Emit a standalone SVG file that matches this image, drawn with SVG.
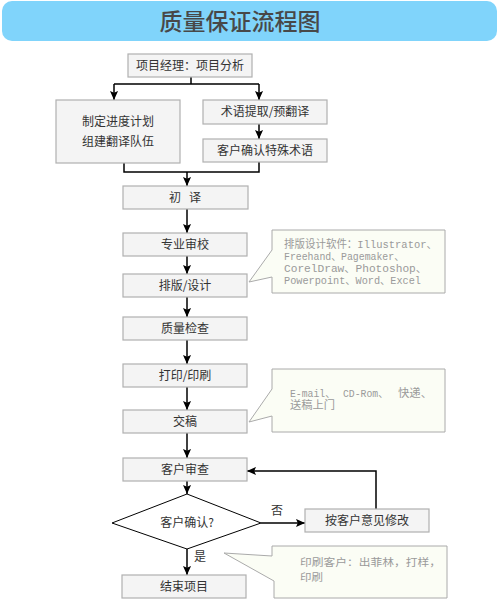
<svg xmlns="http://www.w3.org/2000/svg" width="500" height="600" viewBox="0 0 500 600">
<defs>
<marker id="arr" viewBox="0 0 10 10" refX="10" refY="5" markerWidth="9" markerHeight="9" markerUnits="userSpaceOnUse" orient="auto">
<path d="M0,0.5 L10,5 L0,9.5 L2,5 z" fill="#000"/>
</marker>
<style>
.box{fill:#f4f4f4;stroke:#b0b0b0;stroke-width:1.2}
.t{font-family:"Noto Sans CJK SC","Noto Sans",sans-serif;font-size:12px;fill:#333;text-anchor:middle}
.c{fill:none;stroke:#000;stroke-width:1.5}
.call{fill:#fbfdf5;stroke:#aaaaaa;stroke-width:1}
.ct{font-family:"Liberation Mono","Noto Sans CJK SC",monospace;font-size:11px;fill:#9a9a9a}
.cs{font-family:"Noto Sans CJK SC","Noto Sans",sans-serif;font-size:10px;fill:#9a9a9a}
</style>
</defs>
<rect width="500" height="600" fill="#fff"/>
<g id="header">
<rect x="2" y="1" width="495" height="40" rx="10" fill="#80d4fb"/>
<text x="240" y="30" font-family="Noto Sans CJK SC,sans-serif" font-size="23" fill="#484848" text-anchor="middle" font-weight="500">质量保证流程图</text>
</g>
<g id="connectors">
<path class="c" d="M191,77 V84 M114,84 H259"/>
<path class="c" d="M114,84 V100" marker-end="url(#arr)"/>
<path class="c" d="M259,84 V100" marker-end="url(#arr)"/>
<path class="c" d="M259,124 V139" marker-end="url(#arr)"/>
<path class="c" d="M124,163 V172 H259 V162"/>
<path class="c" d="M187,172 V186" marker-end="url(#arr)"/>
<path class="c" d="M187,209 V233" marker-end="url(#arr)"/>
<path class="c" d="M187,256 V274" marker-end="url(#arr)"/>
<path class="c" d="M187,297 V317" marker-end="url(#arr)"/>
<path class="c" d="M187,340 V364" marker-end="url(#arr)"/>
<path class="c" d="M187,387 V410" marker-end="url(#arr)"/>
<path class="c" d="M187,433 V458" marker-end="url(#arr)"/>
<path class="c" d="M187,481 V494" marker-end="url(#arr)"/>
<path class="c" d="M261,523 H305" marker-end="url(#arr)"/>
<path class="c" d="M376,509 V471 H247" marker-end="url(#arr)"/>
<path class="c" d="M187,549 V575" marker-end="url(#arr)"/>
</g>
<g id="n1"><rect class="box" x="128" y="54" width="124" height="23"/><text class="t" x="190" y="70">项目经理：项目分析</text></g>
<g id="n2"><rect class="box" x="56" y="100" width="124" height="63"/><text class="t" x="118" y="126">制定进度计划</text><text class="t" x="118" y="146">组建翻译队伍</text></g>
<g id="n3"><rect class="box" x="203" y="100" width="124" height="24"/><text class="t" x="265" y="116">术语提取/预翻译</text></g>
<g id="n4"><rect class="box" x="203" y="139" width="124" height="23"/><text class="t" x="265" y="155">客户确认特殊术语</text></g>
<g id="n5"><rect class="box" x="123" y="186" width="125" height="23"/><text class="t" x="185" y="202" xml:space="preserve">初   译</text></g>
<g id="n6"><rect class="box" x="123" y="233" width="124" height="23"/><text class="t" x="185" y="249">专业审校</text></g>
<g id="n7"><rect class="box" x="123" y="274" width="124" height="23"/><text class="t" x="185" y="290">排版/设计</text></g>
<g id="n8"><rect class="box" x="123" y="317" width="124" height="23"/><text class="t" x="185" y="333">质量检查</text></g>
<g id="n9"><rect class="box" x="123" y="364" width="124" height="23"/><text class="t" x="185" y="380">打印/印刷</text></g>
<g id="n10"><rect class="box" x="123" y="410" width="124" height="23"/><text class="t" x="185" y="426">交稿</text></g>
<g id="n11"><rect class="box" x="123" y="458" width="124" height="23"/><text class="t" x="185" y="474">客户审查</text></g>
<g id="n12"><path d="M187,494 L261,523 L187,549 L112,523 z" fill="#fff" stroke="#000" stroke-width="1"/><text class="t" x="187" y="527">客户确认?</text></g>
<g id="n13"><rect class="box" x="305" y="509" width="124" height="23"/><text class="t" x="367" y="525">按客户意见修改</text></g>
<g id="n14"><rect class="box" x="122" y="575" width="124" height="23"/><text class="t" x="184" y="591">结束项目</text></g>
<g id="labels">
<text class="t" x="277" y="515">否</text>
<text class="t" x="200" y="561">是</text>
</g>
<g id="callout1">
<path class="call" d="M272,230 H445 V293 H272 V277 L249,282 L272,250 z"/>
<text class="ct" x="284" y="248" textLength="153" lengthAdjust="spacingAndGlyphs">排版设计软件：Illustrator、</text>
<text class="ct" x="284" y="260" textLength="120" lengthAdjust="spacingAndGlyphs">Freehand、Pagemaker、</text>
<text class="ct" x="284" y="272" textLength="143" lengthAdjust="spacingAndGlyphs">CorelDraw、Photoshop、</text>
<text class="ct" x="284" y="284" textLength="137" lengthAdjust="spacingAndGlyphs">Powerpoint、Word、Excel</text>
</g>
<g id="callout2">
<path class="call" d="M272,369 H445 V432 H272 V416 L249,422 L272,389 z"/>
<text class="ct" x="290" y="397" textLength="45" lengthAdjust="spacingAndGlyphs">E-mail、</text>
<text class="ct" x="343" y="397" textLength="45" lengthAdjust="spacingAndGlyphs">CD-Rom、</text>
<text class="ct" x="398" y="397" textLength="34" lengthAdjust="spacingAndGlyphs">快递、</text>
<text class="ct" x="290" y="409" textLength="45" lengthAdjust="spacingAndGlyphs">送稿上门</text>
</g>
<g id="callout3">
<path class="call" d="M272,546 H447 V598 H274 V581 L224,553 L272,556 z"/>
<text class="cs" x="300" y="566" textLength="141" lengthAdjust="spacingAndGlyphs">印刷客户：出菲林，打样，</text>
<text class="cs" x="300" y="581" textLength="23" lengthAdjust="spacingAndGlyphs">印刷</text>
</g>
</svg>
